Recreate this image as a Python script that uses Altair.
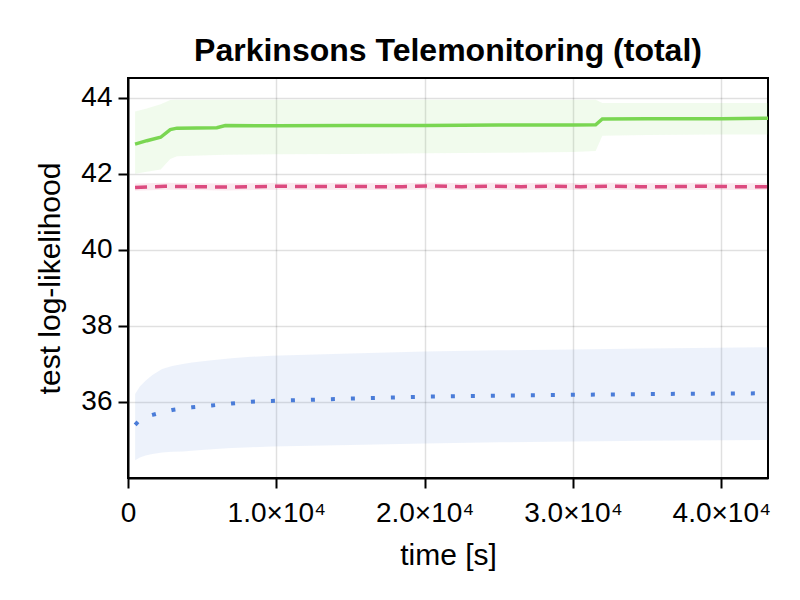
import altair as alt
import pandas as pd

# ---- data ----
green_t = [475, 1270, 2200, 2850, 3300, 5990, 6560, 10000, 15000, 20000, 25000, 30000, 31530, 31980, 35000, 40000, 43150]
green_m = [42.78, 42.87, 42.96, 43.16, 43.20, 43.21, 43.27, 43.26, 43.27, 43.27, 43.28, 43.28, 43.29, 43.44, 43.45, 43.45, 43.46]
green_hi = [43.64, 43.72, 43.83, 43.94, 43.95, 43.95, 43.95, 43.95, 43.95, 43.95, 43.95, 43.95, 43.95, 43.86, 43.86, 43.86, 43.86]
green_lo = [42.00, 42.05, 42.11, 42.39, 42.46, 42.49, 42.50, 42.51, 42.52, 42.54, 42.55, 42.57, 42.60, 43.00, 43.02, 43.03, 43.03]

pink_t = [475, 2500, 4500, 6500, 8500, 10500, 12500, 14500, 16500, 18500, 20500, 22500, 24500, 26500, 28500, 30500, 32500, 34500, 36500, 38500, 40500, 43150]
pink_m = [41.64, 41.67, 41.66, 41.65, 41.66, 41.67, 41.66, 41.67, 41.66, 41.66, 41.68, 41.66, 41.67, 41.66, 41.67, 41.66, 41.67, 41.66, 41.66, 41.67, 41.66, 41.66]
pink_hi = [41.74, 41.76, 41.75, 41.74, 41.75, 41.76, 41.75, 41.76, 41.75, 41.75, 41.77, 41.75, 41.76, 41.75, 41.76, 41.75, 41.76, 41.75, 41.75, 41.76, 41.75, 41.75]
pink_lo = [41.55, 41.58, 41.57, 41.56, 41.57, 41.58, 41.57, 41.58, 41.57, 41.57, 41.59, 41.57, 41.58, 41.57, 41.58, 41.57, 41.58, 41.57, 41.57, 41.58, 41.57, 41.57]

blue_t = [482, 800, 1180, 1645, 2300, 2979, 3700, 4312, 5645, 6979, 8312, 9674, 15000, 20000, 25000, 30000, 35000, 43150]
blue_m = [35.39, 35.52, 35.60, 35.65, 35.72, 35.78, 35.82, 35.85, 35.90, 35.95, 36.00, 36.02, 36.08, 36.13, 36.16, 36.18, 36.20, 36.22]
blue_hi = [36.20, 36.40, 36.55, 36.70, 36.86, 36.94, 36.99, 37.03, 37.09, 37.14, 37.18, 37.21, 37.27, 37.32, 37.35, 37.37, 37.40, 37.43]
blue_lo = [34.46, 34.53, 34.58, 34.62, 34.66, 34.68, 34.69, 34.71, 34.75, 34.78, 34.80, 34.82, 34.86, 34.90, 34.93, 34.95, 34.97, 34.99]

GREEN = "#7AD652"
PINK = "#DC4A7F"
BLUE = "#4A7CD8"

FONT = "Liberation Sans"


def frame(t, m, lo, hi):
    return pd.DataFrame({"t": t, "m": m, "lo": lo, "hi": hi})


xscale = alt.Scale(domain=[0, 43150], nice=False, zero=False)
yscale = alt.Scale(domain=[33.99, 44.52], nice=False, zero=False)

xaxis = alt.Axis(
    values=[0, 10000, 20000, 30000, 40000],
    labelExpr="datum.value == 0 ? '0' : format(datum.value / 10000, '.1f') + '×10⁴'",
    title="time [s]",
    labelPadding=11,
    titlePadding=13,
    labelFlush=False,
)
yaxis = alt.Axis(values=[36, 38, 40, 42, 44], title="test log-likelihood",
                 labelPadding=6, titlePadding=15, labelFlush=False)


def band(df, color, opacity):
    return alt.Chart(df).mark_area(color=color, opacity=opacity, clip=True).encode(
        x=alt.X("t:Q", scale=xscale, axis=xaxis),
        y=alt.Y("lo:Q", scale=yscale, axis=yaxis),
        y2="hi:Q",
    )


def line(df, color, dash, width):
    kw = dict(color=color, strokeWidth=width, clip=True)
    if dash:
        kw["strokeDash"] = dash
    return alt.Chart(df).mark_line(**kw).encode(
        x=alt.X("t:Q", scale=xscale, axis=xaxis),
        y=alt.Y("m:Q", scale=yscale, axis=yaxis),
    )


g = frame(green_t, green_m, green_lo, green_hi)
p = frame(pink_t, pink_m, pink_lo, pink_hi)
b = frame(blue_t, blue_m, blue_lo, blue_hi)

chart = alt.layer(
    band(g, GREEN, 0.1),
    band(p, PINK, 0.12),
    band(b, BLUE, 0.1),
    line(g, GREEN, None, 3.5),
    line(p, PINK, [12, 8], 3.5),
    line(b, BLUE, [4, 16], 4),
).properties(
    width=640,
    height=400,
    title="Parkinsons Telemonitoring (total)",
    padding={"left": 120, "top": 70, "right": 24, "bottom": 114},
    autosize="none",
).configure_view(
    stroke="black", strokeWidth=2
).configure_axis(
    domainColor="black",
    domainWidth=2,
    tickColor="black",
    tickWidth=2,
    tickSize=10,
    labelFont=FONT,
    labelFontSize=28,
    labelColor="black",
    titleFont=FONT,
    titleFontSize=30,
    titleFontWeight="normal",
    titleColor="black",
    gridColor="black",
    gridOpacity=0.12,
    gridWidth=1.5,
).configure_title(
    font=FONT,
    fontSize=32,
    fontWeight="bold",
    color="black",
    anchor="middle",
    offset=10,
)

chart.save("out.html", embed_options={"renderer": "svg", "actions": False})
